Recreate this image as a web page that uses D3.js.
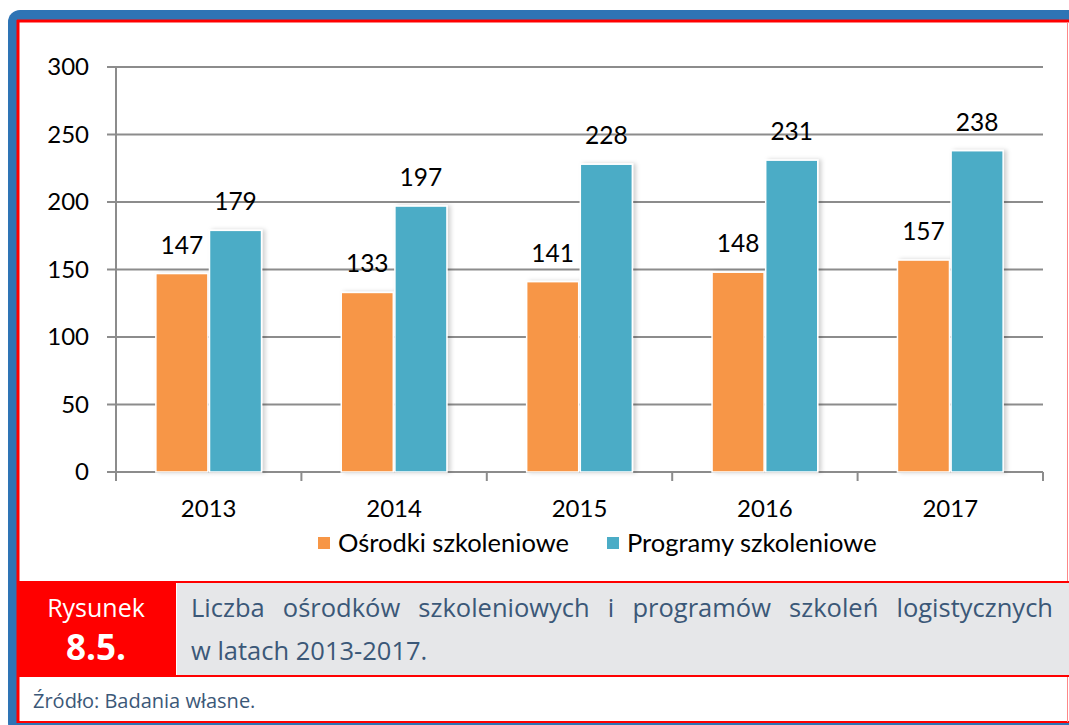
<!DOCTYPE html>
<html>
<head>
<meta charset="utf-8">
<script src="https://cdn.jsdelivr.net/npm/d3@7"></script>
<style>
  html, body { margin: 0; padding: 0; background: #fff; }
  svg { display: block; }
</style>
</head>
<body>
<div id="chart"></div>
<script>
// Chart data.
const years = ['2013', '2014', '2015', '2016', '2017'];
const seriesNames = ['Ośrodki szkoleniowe', 'Programy szkoleniowe'];
const osrodki = [147, 133, 141, 148, 157];
const programy = [179, 197, 228, 231, 238];
const yTicks = [0, 50, 100, 150, 200, 250, 300];
const seriesColors = ['#f79646', '#4bacc6'];

const W = 1069, H = 725;
const chartFont = 'Lato, "Liberation Sans", sans-serif';
const capFont = '"Open Sans", "Noto Sans", sans-serif';
const capColor = '#3b5878';

const svg = d3.select('#chart').append('svg')
  .attr('width', W).attr('height', H);

// Soft shadow for bars.
const defs = svg.append('defs');
const f = defs.append('filter').attr('id', 'shadow')
  .attr('x', '-20%').attr('y', '-5%').attr('width', '150%').attr('height', '110%');
f.append('feDropShadow').attr('dx', 3).attr('dy', 0).attr('stdDeviation', 2)
  .attr('flood-color', '#000').attr('flood-opacity', 0.18);

// Outer frame: blue band with rounded left corners, red inner border.
svg.append('rect')
  .attr('x', 8).attr('y', 10).attr('width', W + 20).attr('height', H)
  .attr('rx', 12).attr('fill', '#2e74b5');
svg.append('rect')
  .attr('x', 17).attr('y', 20).attr('width', W - 17 + 5).attr('height', 703)
  .attr('fill', '#fff');
// red borders
svg.append('line').attr('x1', 17).attr('x2', W).attr('y1', 21).attr('y2', 21)
  .attr('stroke', '#ff0000').attr('stroke-width', 3);
svg.append('line').attr('x1', 18).attr('x2', 18).attr('y1', 20).attr('y2', 723)
  .attr('stroke', '#ff0000').attr('stroke-width', 3);
svg.append('line').attr('x1', 17).attr('x2', W).attr('y1', 722).attr('y2', 722)
  .attr('stroke', '#ff0000').attr('stroke-width', 2);
svg.append('line').attr('x1', 1067.5).attr('x2', 1067.5).attr('y1', 22).attr('y2', 722)
  .attr('stroke', '#f88').attr('stroke-width', 1);

// Scales.
const plotLeft = 116, plotRight = 1043, plotTop = 67, plotBottom = 472;
const x0 = d3.scaleBand().domain(years).range([plotLeft, plotRight]);
const bw = x0.bandwidth();
const x1 = d3.scaleBand().domain(seriesNames)
  .range([bw * 0.215, bw * 0.785]).paddingInner(0.03);
const y = d3.scaleLinear().domain([0, 300]).range([plotBottom, plotTop]);

const grid = svg.append('g');
// Gridlines (with tick stubs on the left).
grid.selectAll('line.grid').data(yTicks).enter().append('line')
  .attr('class', 'grid')
  .attr('x1', plotLeft - 9).attr('x2', plotRight)
  .attr('y1', d => y(d)).attr('y2', d => y(d))
  .attr('stroke', '#8c8c8c').attr('stroke-width', 2);
// Y axis line.
grid.append('line')
  .attr('x1', plotLeft).attr('x2', plotLeft)
  .attr('y1', plotTop).attr('y2', plotBottom)
  .attr('stroke', '#8c8c8c').attr('stroke-width', 2);
// X category ticks.
const xTickPos = years.map(d => x0(d)).concat([x0(years[years.length - 1]) + bw]);
grid.selectAll('line.xt').data(xTickPos).enter().append('line')
  .attr('class', 'xt')
  .attr('x1', d => d).attr('x2', d => d)
  .attr('y1', plotBottom).attr('y2', plotBottom + 9)
  .attr('stroke', '#8c8c8c').attr('stroke-width', 2);

// Y labels.
svg.append('g').selectAll('text').data(yTicks).enter().append('text')
  .attr('x', 89).attr('y', d => y(d) + 8)
  .attr('text-anchor', 'end')
  .style('font-family', chartFont).style('font-size', '24px').attr('fill', '#000')
  .text(d => d);

// X labels.
svg.append('g').selectAll('text').data(years).enter().append('text')
  .attr('x', d => x0(d) + bw / 2).attr('y', 517)
  .attr('text-anchor', 'middle')
  .style('font-family', chartFont).style('font-size', '24px').attr('fill', '#000')
  .text(d => d);

// Bars.
const rows = years.map((yr, i) => ({ year: yr, vals: [osrodki[i], programy[i]] }));
const groups = svg.append('g').selectAll('g').data(rows).enter().append('g')
  .attr('transform', d => `translate(${x0(d.year)},0)`);

groups.selectAll('rect').data(d => d.vals.map((v, k) => ({ v, k }))).enter().append('rect')
  .attr('x', d => x1(seriesNames[d.k]))
  .attr('y', d => y(d.v))
  .attr('width', x1.bandwidth())
  .attr('height', d => plotBottom - y(d.v))
  .attr('fill', d => seriesColors[d.k])
  .attr('stroke', '#fff').attr('stroke-width', 1.5)
  .attr('filter', 'url(#shadow)');

groups.selectAll('text').data(d => d.vals.map((v, k) => ({ v, k }))).enter().append('text')
  .attr('x', d => x1(seriesNames[d.k]) + x1.bandwidth() / 2)
  .attr('y', d => y(d.v) - 20)
  .attr('text-anchor', 'middle')
  .style('font-family', chartFont).style('font-size', '24.5px').attr('fill', '#000')
  .text(d => d.v);

// Legend.
const legendX = [318, 607];
const leg = svg.append('g').selectAll('g').data(seriesNames).enter().append('g')
  .attr('transform', (d, i) => `translate(${legendX[i]},537)`);
leg.append('rect').attr('width', 12).attr('height', 12)
  .attr('fill', (d, i) => seriesColors[i]);
leg.append('text').attr('x', 20).attr('y', 15)
  .style('font-family', chartFont).style('font-size', '25.5px').attr('fill', '#000')
  .text(d => d);

// Caption block.
svg.append('rect').attr('x', 17).attr('y', 581).attr('width', 159).attr('height', 96)
  .attr('fill', '#ff0000');
svg.append('rect').attr('x', 177).attr('y', 583).attr('width', W - 177).attr('height', 92)
  .attr('fill', '#e6e7e9');
svg.append('line').attr('x1', 176).attr('x2', W).attr('y1', 582).attr('y2', 582)
  .attr('stroke', '#ff0000').attr('stroke-width', 2);
svg.append('line').attr('x1', 176).attr('x2', W).attr('y1', 676).attr('y2', 676)
  .attr('stroke', '#ff0000').attr('stroke-width', 2);

svg.append('text').attr('x', 96).attr('y', 617).attr('text-anchor', 'middle')
  .style('font-family', capFont).style('font-size', '25px').attr('fill', '#fff')
  .text('Rysunek');
svg.append('text').attr('x', 96).attr('y', 660).attr('text-anchor', 'middle')
  .style('font-family', capFont).style('font-size', '35px').style('font-weight', 'bold')
  .attr('fill', '#fff').text('8.5.');

// Justified first caption line: spread words between 191 and 1053.
const capWords = ['Liczba', 'ośrodków', 'szkoleniowych', 'i', 'programów', 'szkoleń', 'logistycznych'];
const capLine = svg.append('g');
const wordEls = capWords.map(w => capLine.append('text')
  .attr('y', 617)
  .style('font-family', capFont).style('font-size', '25.5px').attr('fill', capColor)
  .text(w));
const widths = wordEls.map(t => t.node().getComputedTextLength());
const total = d3.sum(widths);
const gap = (1053 - 191 - total) / (capWords.length - 1);
let cx = 191;
wordEls.forEach((t, i) => { t.attr('x', cx); cx += widths[i] + gap; });

svg.append('text').attr('x', 191).attr('y', 660)
  .style('font-family', capFont).style('font-size', '25.5px').attr('fill', capColor)
  .text('w latach 2013-2017.');

svg.append('text').attr('x', 33).attr('y', 708)
  .style('font-family', capFont).style('font-size', '20px').attr('fill', capColor)
  .text('Źródło: Badania własne.');
</script>
</body>
</html>
